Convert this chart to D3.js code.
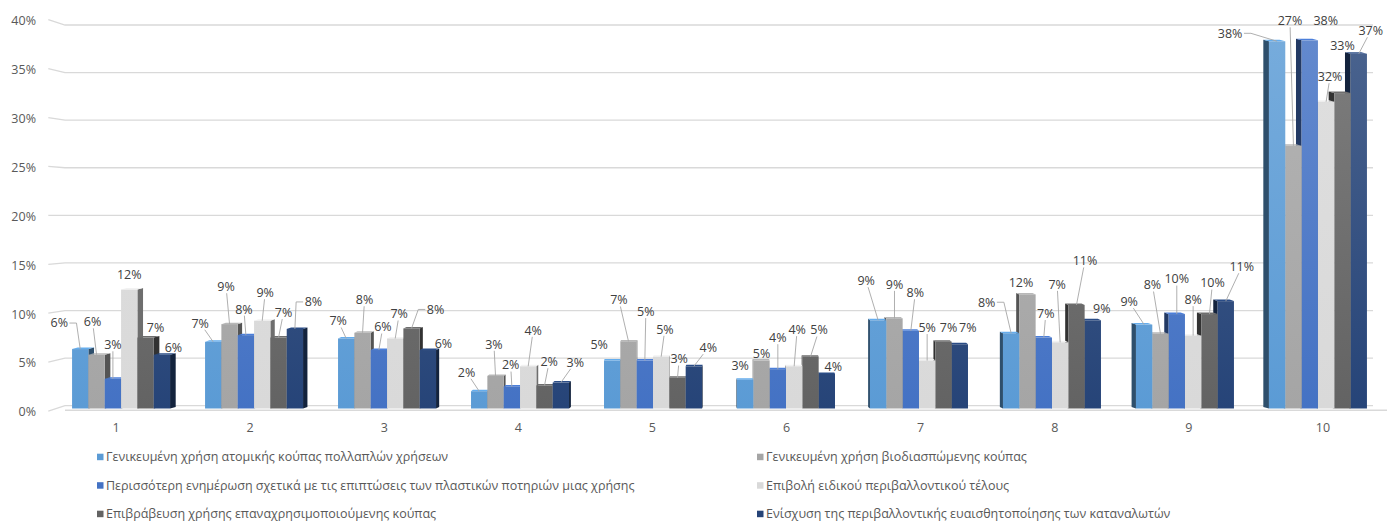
<!DOCTYPE html>
<html><head><meta charset="utf-8">
<script src="https://cdn.jsdelivr.net/npm/d3@7"></script>
<style>
body{margin:0;background:#fff}
svg{display:block}
text{font-family:"Open Sans","Noto Sans",sans-serif}
</style>
</head><body><svg id="c" width="1387" height="521"></svg>
<script>
// ---------- DATA ----------
const categories = ["1","2","3","4","5","6","7","8","9","10"];
const seriesNames = [
  "Γενικευμένη χρήση ατομικής κούπας πολλαπλών χρήσεων",
  "Γενικευμένη χρήση βιοδιασπώμενης κούπας",
  "Περισσότερη ενημέρωση σχετικά με τις επιπτώσεις των πλαστικών ποτηριών μιας χρήσης",
  "Επιβολή ειδικού περιβαλλοντικού τέλους",
  "Επιβράβευση χρήσης επαναχρησιμοποιούμενης κούπας",
  "Ενίσχυση της περιβαλλοντικής ευαισθητοποίησης των καταναλωτών"
];
const s1 = [0.062, 0.0695, 0.073, 0.018, 0.050, 0.030, 0.092, 0.0785, 0.0875, 0.383];
const s2 = [0.056, 0.088, 0.079, 0.034, 0.070, 0.050, 0.094, 0.119, 0.078, 0.274];
const s3 = [0.031, 0.0765, 0.061, 0.023, 0.050, 0.041, 0.081, 0.074, 0.0985, 0.384];
const s4 = [0.124, 0.0915, 0.073, 0.044, 0.054, 0.044, 0.050, 0.069, 0.076, 0.320];
const s5 = [0.074, 0.074, 0.0835, 0.024, 0.032, 0.054, 0.0697, 0.108, 0.0985, 0.329];
const s6 = [0.056, 0.083, 0.061, 0.027, 0.044, 0.036, 0.067, 0.092, 0.112, 0.370];
const seriesValues = [s1, s2, s3, s4, s5, s6];
const yTickValues = [0, 0.05, 0.10, 0.15, 0.20, 0.25, 0.30, 0.35, 0.40];

// ---------- STYLE / LAYOUT ----------
const seriesColors = ["#5B9BD5", "#A5A5A5", "#4472C4", "#D9D9D9", "#636363", "#264478"];
// label nudges relative to bar top centre: [dx, dy, leader kind 0 none / 1 straight / 2 elbow]
const labelLayout = [
  [[-21,-26,2],[-4,-33,1],[0,-34,1],[0,-15,0],[10,-10,0],[11.5,-7,0]],
  [[-13,-18.6,1],[-3.5,-37.4,1],[-2,-26,1],[3,-28,1],[5,-25,1],[18.5,-27,2]],
  [[-8,-17.5,1],[2,-33,1],[4,-23,1],[4,-24.5,1],[24,-19,2],[15.5,-6.7,0]],
  [[-12.6,-19,1],[-1.6,-31.6,1],[-1.2,-21.4,1],[5,-36,1],[4.7,-23.8,1],[14.4,-20.3,1]],
  [[-13,-15.6,0],[-9.6,-41.4,1],[1,-49,1],[3.7,-27.4,1],[1.7,-18.8,1],[14.4,-18.7,1]],
  [[-5,-13.7,0],[0,-7,0],[0,-31.5,1],[3,-36.7,1],[8.5,-26.7,1],[6.5,-7.3,0]],
  [[-12,-39.6,1],[0,-34,1],[4.5,-38,1],[0,-33,1],[5,-14,0],[8,-16.6,0]],
  [[-24.5,-31,2],[-6.5,-11.7,0],[2,-24,1],[-3,-58,1],[8.5,-44,1],[9,-12,0]],
  [[-15,-23,1],[-8,-48.7,1],[0,-35,1],[0,-36,1],[3,-31,1],[16,-34.4,1]],
  [[-47,-8,2],[-3.5,-125,1],[16,-20,0],[4,-25,1],[0,-47,0],[12,-23,1]]
];
const LABEL_FS = 12.5, AXIS_FS = 12.5, LEGEND_FS = 12.5;

const svg = d3.select("#c");
const fmt = d3.format(".0%");
const x = d3.scaleBand().domain(categories).range([49, 1390]);
const xs = d3.scaleBand().domain(d3.range(seriesNames.length)).range([-49, 49]);
const yBar = d3.scaleLinear().domain([0, 0.4]).range([408.5, 25]);
const yWall = d3.scaleLinear().domain([0, 0.4]).range([405.7, 25]);
const VP = 720, HORIZON = 215;

// gradients
const defs = svg.append("defs");
seriesColors.forEach((c, i) => {
  const g = defs.append("linearGradient").attr("id", "g" + i)
    .attr("gradientUnits", "userSpaceOnUse")
    .attr("x1", 0).attr("x2", 0).attr("y1", yBar(0.4)).attr("y2", yBar(0));
  g.append("stop").attr("offset", 0).attr("stop-color", d3.interpolateRgb(c, "#fff")(0.17));
  g.append("stop").attr("offset", 1).attr("stop-color", c);
});

// gridlines (back wall + side wall edge)
const grid = svg.append("g");
yTickValues.forEach(t => {
  const yb = yWall(t);
  const yf = yb + (yb - HORIZON) * 0.028;
  grid.append("path")
    .attr("d", `M48.3,${yf}L65,${yb}L1373,${yb}`)
    .attr("fill", "none").attr("stroke", "#d9d9d9").attr("stroke-width", 1.3);
  svg.append("text").attr("x", 36).attr("y", yf + 1).attr("dy", "0.35em")
    .attr("text-anchor", "end").attr("font-size", AXIS_FS).attr("fill", "#595959")
    .text(fmt(t));
});
// floor front edge
svg.append("path").attr("d", `M65,${yBar(0) + 1.8}L1387,${yBar(0) + 1.8}`)
  .attr("stroke", "#d9d9d9").attr("stroke-width", 1.5);

// x labels
categories.forEach(c => {
  svg.append("text").attr("x", x(c) + x.bandwidth() / 2).attr("y", 428).attr("dy", "0.35em")
    .attr("text-anchor", "middle").attr("font-size", AXIS_FS).attr("fill", "#595959").text(c);
});

// bars
const barsG = svg.append("g");
const labelsG = svg.append("g");
const w = xs.bandwidth();
const TOP = 1.5;
categories.forEach((cat, i) => {
  const cx = x(cat) + x.bandwidth() / 2;
  const shift = (VP - cx) * 0.0083;
  const d = Math.abs(cx - VP) / 600 * 5.6;
  const side = cx < VP ? 1 : -1;
  const order = side > 0 ? d3.range(6) : d3.range(5, -1, -1);
  order.forEach(j => {
    const v = seriesValues[j][i];
    const x0 = cx + shift + xs(j);
    const y0 = yBar(v), y1 = yBar(0);
    const c = seriesColors[j];
    const g = barsG.append("g");
    let sidePts, topPts;
    if (side > 0) {
      sidePts = [[x0 + w, y0], [x0 + w + d, y0 - TOP], [x0 + w + d, y1 - TOP], [x0 + w, y1]];
      topPts = [[x0, y0], [x0 + w, y0], [x0 + w + d, y0 - TOP], [x0 + d, y0 - TOP]];
    } else {
      sidePts = [[x0, y0], [x0 - d, y0 - TOP], [x0 - d, y1 - TOP], [x0, y1]];
      topPts = [[x0, y0], [x0 + w, y0], [x0 + w - d, y0 - TOP], [x0 - d, y0 - TOP]];
    }
    g.append("polygon").attr("points", sidePts.join(" ")).attr("fill", d3.color(c).darker(1.9));
    g.append("polygon").attr("points", topPts.join(" ")).attr("fill", d3.color(c).brighter(0.3));
    g.append("rect").attr("x", x0).attr("y", y0).attr("width", w).attr("height", y1 - y0)
      .attr("fill", `url(#g${j})`);
  });
  // labels
  d3.range(6).forEach(j => {
    const v = seriesValues[j][i];
    const bx = cx + shift + xs(j) + w / 2;
    const by = yBar(v);
    const [dx, dy, kind] = labelLayout[i][j];
    const tx = bx + dx, ty = by + dy;
    const t = labelsG.append("text").attr("x", tx).attr("y", ty).attr("dy", "0.35em")
      .attr("text-anchor", "middle").attr("font-size", LABEL_FS).attr("fill", "#404040").text(fmt(v));
    const hw = t.node().getComputedTextLength() / 2 + 1.5;
    const hh = 6.5;
    if (kind === 1) {
      const ux = bx - tx, uy = by - ty;
      const s = Math.min(ux === 0 ? Infinity : hw / Math.abs(ux), uy === 0 ? Infinity : hh / Math.abs(uy));
      labelsG.append("path").attr("d", `M${tx + ux * s},${ty + uy * s}L${bx},${by}`)
        .attr("stroke", "#a6a6a6").attr("stroke-width", 0.9).attr("fill", "none");
    } else if (kind === 2) {
      const dir = bx > tx ? 1 : -1;
      const xa = tx + dir * hw;
      labelsG.append("path").attr("d", `M${xa},${ty}L${xa + dir * 7},${ty}L${bx},${by}`)
        .attr("stroke", "#a6a6a6").attr("stroke-width", 0.9).attr("fill", "none");
    }
  });
});

// legend
const legCols = [97, 757], legRows = [457, 485.5, 514];
seriesNames.forEach((name, k) => {
  const lx = legCols[k % 2], ly = legRows[Math.floor(k / 2)];
  svg.append("rect").attr("x", lx).attr("y", ly - 3.3).attr("width", 6.5).attr("height", 6.5)
    .attr("fill", seriesColors[k]);
  svg.append("text").attr("x", lx + 9).attr("y", ly).attr("dy", "0.35em")
    .attr("font-size", LEGEND_FS).attr("fill", "#595959").text(name);
});
</script>
</body></html>
